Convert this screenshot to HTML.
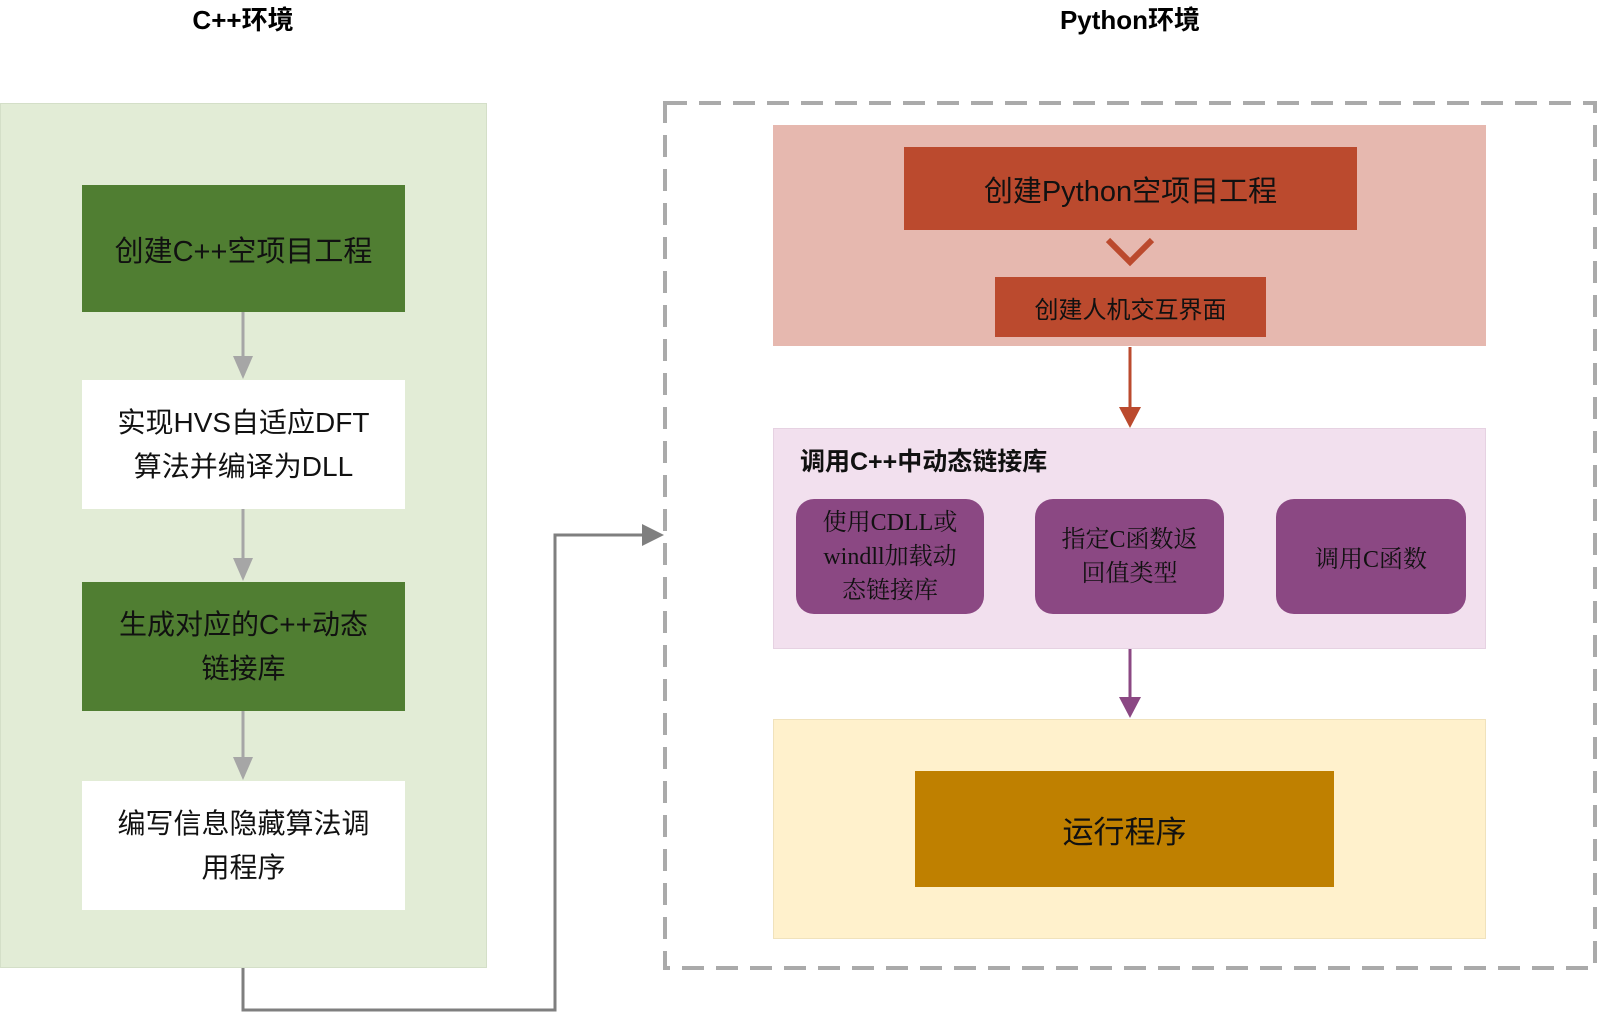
<!DOCTYPE html>
<html><head><meta charset="utf-8"><style>
body{margin:0;width:1600px;height:1012px;background:#fff;position:relative;overflow:hidden;font-family:"Liberation Sans","Noto Sans CJK SC",sans-serif}
.a{position:absolute;box-sizing:border-box;display:flex;align-items:center;justify-content:center;text-align:center}
</style></head><body>
<div class="a" style="left:143px;top:0;width:200px;height:36px;font-weight:bold;font-size:26px">C++环境</div>
<div class="a" style="left:1000px;top:0;width:260px;height:36px;font-weight:bold;font-size:26px">Python环境</div>

<div class="a" style="left:0;top:103px;width:487px;height:865px;background:#e2ecd6;border:1px solid #d4dfc8"></div>
<div class="a" style="left:82px;top:185px;width:323px;height:127px;background:#507e32;font-size:29px;color:#111">创建C++空项目工程</div>
<div class="a" style="left:82px;top:380px;width:323px;height:129px;background:#fff;font-size:28px;line-height:44px;color:#111">实现HVS自适应DFT<br>算法并编译为DLL</div>
<div class="a" style="left:82px;top:582px;width:323px;height:129px;background:#507e32;font-size:28px;line-height:44px;color:#111">生成对应的C++动态<br>链接库</div>
<div class="a" style="left:82px;top:781px;width:323px;height:129px;background:#fff;font-size:28px;line-height:44px;color:#111">编写信息隐藏算法调<br>用程序</div>

<div class="a" style="left:773px;top:125px;width:713px;height:221px;background:#e6b8af"></div>
<div class="a" style="left:904px;top:147px;width:453px;height:83px;background:#bb4a2e;font-size:29px;color:#111">创建Python空项目工程</div>
<div class="a" style="left:995px;top:277px;width:271px;height:60px;background:#bb4a2e;font-size:24px;color:#111">创建人机交互界面</div>
<div class="a" style="left:773px;top:428px;width:713px;height:221px;background:#f2e0ee;border:1px solid #e6d2e2"></div>
<div style="position:absolute;left:800px;top:442px;font-weight:bold;font-size:25px;color:#111">调用C++中动态链接库</div>
<div class="a" style="left:796px;top:499px;width:188px;height:115px;background:#8b4883;border-radius:18px;font-family:'Liberation Serif','Noto Serif CJK SC',serif;font-size:24px;line-height:34px;color:#111">使用CDLL或<br>windll加载动<br>态链接库</div>
<div class="a" style="left:1035px;top:499px;width:189px;height:115px;background:#8b4883;border-radius:18px;font-family:'Liberation Serif','Noto Serif CJK SC',serif;font-size:24px;line-height:34px;color:#111">指定C函数返<br>回值类型</div>
<div class="a" style="left:1276px;top:499px;width:190px;height:115px;background:#8b4883;border-radius:18px;font-family:'Liberation Serif','Noto Serif CJK SC',serif;font-size:24px;color:#111">调用C函数</div>
<div class="a" style="left:773px;top:719px;width:713px;height:220px;background:#fff1cc;border:1px solid #f0e2bc"></div>
<div class="a" style="left:915px;top:771px;width:419px;height:116px;background:#bf8000;font-size:31px;color:#111">运行程序</div>

<svg width="1600" height="1012" style="position:absolute;left:0;top:0">
<rect x="665" y="103" width="930" height="865" fill="none" stroke="#aaa" stroke-width="4" stroke-dasharray="22 12"/>
<g stroke="#a6a6a6" stroke-width="3" fill="#a6a6a6">
<line x1="243" y1="312" x2="243" y2="358"/><polygon points="233,356 253,356 243,379" stroke="none"/>
<line x1="243" y1="509" x2="243" y2="560"/><polygon points="233,558 253,558 243,581" stroke="none"/>
<line x1="243" y1="711" x2="243" y2="759"/><polygon points="233,757 253,757 243,780" stroke="none"/>
</g>
<polyline points="243,968 243,1010 555,1010 555,535 645,535" fill="none" stroke="#7f7f7f" stroke-width="3"/>
<polygon points="642,524 642,546 664,535" fill="#7f7f7f"/>
<polyline points="1108,240 1130,262 1152,240" fill="none" stroke="#bb4a2e" stroke-width="6"/>
<line x1="1130" y1="347" x2="1130" y2="410" stroke="#bb4a2e" stroke-width="3"/>
<polygon points="1119,407 1141,407 1130,428" fill="#bb4a2e"/>
<line x1="1130" y1="649" x2="1130" y2="700" stroke="#8b4883" stroke-width="3"/>
<polygon points="1119,697 1141,697 1130,718" fill="#8b4883"/>
</svg>
</body></html>
